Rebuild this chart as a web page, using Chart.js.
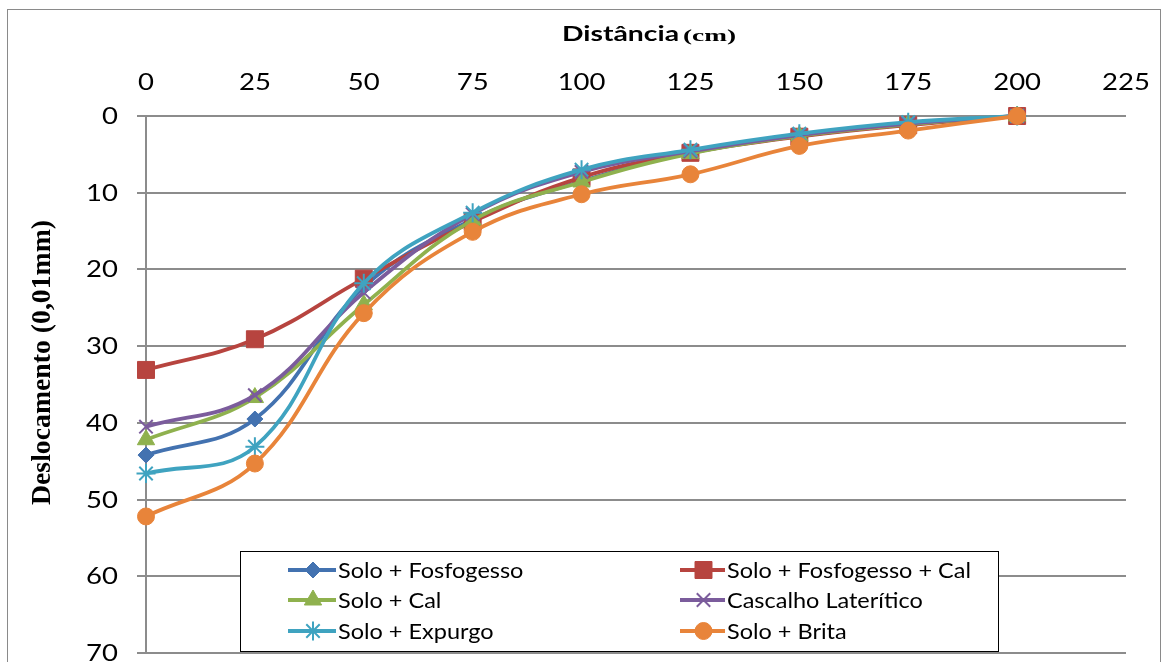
<!DOCTYPE html>
<html lang="pt">
<head>
<meta charset="UTF-8">
<title>Deslocamento x Distância</title>
<script src="https://cdn.jsdelivr.net/npm/chart.js"></script>
<style>
    html, body { margin: 0; padding: 0; background: #fff; overflow: hidden; }
    #wrap { position: relative; width: 1163px; height: 662px; }
    #frame { position: absolute; left: 7px; top: 9px; width: 1152px; height: 700px; border: 1px solid #8a8a8a; }
    canvas { position: absolute; left: 0; top: 0; }
</style>
</head>
<body>
<div id="wrap">
    <div id="frame"></div>
    <canvas id="chart" width="1163" height="662"></canvas>
</div>
<script>
// distância (cm) e deslocamentos (0,01mm)
const distancias = [0, 25, 50, 75, 100, 125, 150, 175, 200];
const soloFosfogesso    = [44.2, 39.5, 22.3, 13.5, 8.5, 4.8, 2.6, 1.1, 0];
const soloFosfogessoCal = [33.1, 29.1, 21.2, 13.8, 8.0, 4.8, 2.7, 1.2, 0];
const soloCal           = [42.2, 36.7, 24.6, 13.6, 8.6, 4.9, 2.6, 1.1, 0];
const cascalho          = [40.5, 36.4, 23.0, 12.8, 7.3, 4.6, 2.5, 1.0, 0];
const soloExpurgo       = [46.6, 43.1, 21.8, 12.6, 7.0, 4.4, 2.3, 0.8, 0];
const soloBrita         = [52.2, 45.3, 25.7, 15.1, 10.2, 7.6, 3.9, 1.9, 0];

const nomes = ['Solo + Fosfogesso', 'Solo + Fosfogesso + Cal', 'Solo + Cal',
               'Cascalho Laterítico', 'Solo + Expurgo', 'Solo + Brita'];
const series = [soloFosfogesso, soloFosfogessoCal, soloCal, cascalho, soloExpurgo, soloBrita];
const cores = ['#4372b0', '#b7443f', '#8fb14e', '#7b5c9c', '#3fa3c0', '#e8843a'];
const marcadores = ['rectRot', 'rect', 'triangle', 'crossRot', 'star', 'circle'];
const raios = [8, 12, 10, 9.5, 9.5, 8.5];

const datasets = series.map((vals, i) => ({
    label: nomes[i],
    data: distancias.map((d, j) => ({ x: d, y: vals[j] })),
    borderColor: cores[i],
    backgroundColor: cores[i],
    pointBackgroundColor: cores[i],
    pointBorderColor: cores[i],
    pointStyle: marcadores[i],
    pointRadius: raios[i],
    pointBorderWidth: (marcadores[i] === 'crossRot' || marcadores[i] === 'star') ? 2 : 1,
    borderWidth: 3.8,
    tension: 0.4,
    clip: false,
    order: series.length - i
}));

const gridGray = '#8c8c8c';

// texto com largura ajustada (escala horizontal)
function texto(ctx, str, x, y, font, largura, align) {
    ctx.save();
    ctx.font = font;
    const w = ctx.measureText(str).width;
    const sx = largura ? largura / w : 1;
    ctx.translate(x, y);
    ctx.scale(sx, 1);
    ctx.textAlign = align || 'left';
    ctx.fillText(str, 0, 0);
    ctx.restore();
    return w * sx;
}

// rótulos dos eixos, títulos e legenda
const extras = {
    id: 'extras',
    afterDraw(chart) {
        const ctx = chart.ctx;
        ctx.save();
        ctx.fillStyle = '#000';
        ctx.textBaseline = 'alphabetic';

        // rótulos do eixo x
        const xs = chart.scales.x, ys = chart.scales.y;
        const fTick = '23.5px Lato';
        xs.ticks.forEach(t => {
            const px = xs.getPixelForValue(t.value);
            ctx.font = fTick;
            const w = ctx.measureText(String(t.value)).width * 1.17;
            texto(ctx, String(t.value), px - w / 2, 90, fTick, w);
        });
        // rótulos do eixo y
        ys.ticks.forEach(t => {
            const py = ys.getPixelForValue(t.value);
            ctx.font = fTick;
            const w = ctx.measureText(String(t.value)).width * 1.17;
            texto(ctx, String(t.value), 118 - w, py + 8, fTick, w);
        });

        // título do eixo x
        texto(ctx, 'Distância', 562, 41, 'bold 21px Lato', 117);
        texto(ctx, '(cm)', 683, 41, 'bold 17px "Liberation Serif"', 53);

        // título do eixo y
        ctx.save();
        ctx.translate(50, 505);
        ctx.rotate(-Math.PI / 2);
        texto(ctx, 'Deslocamento (0,01mm)', 0, 0, 'bold 27px "Liberation Serif"', 285);
        ctx.restore();

        // legenda
        const lx = 240, ly = 551, lw = 758, lh = 100;
        ctx.fillStyle = '#fff';
        ctx.fillRect(lx, ly, lw, lh);
        ctx.strokeStyle = '#000';
        ctx.lineWidth = 1;
        ctx.strokeRect(lx + 0.5, ly + 0.5, lw, lh);
        const fLeg = '21px Lato';
        ctx.font = fLeg;
        const escLeg = 244 / ctx.measureText(nomes[1]).width;
        const linhaX = [288, 680];
        const textoX = [338, 727];
        const rowY = [570, 600, 631];
        chart.data.datasets.forEach((ds, i) => {
            const c = i % 2, cy = rowY[Math.floor(i / 2)];
            const cx = linhaX[c];
            ctx.strokeStyle = ds.borderColor;
            ctx.lineWidth = 3.8;
            ctx.beginPath();
            ctx.moveTo(cx, cy);
            ctx.lineTo(textoX[c] - 2, cy);
            ctx.stroke();
            ctx.fillStyle = ds.pointBackgroundColor;
            ctx.strokeStyle = ds.pointBorderColor;
            ctx.lineWidth = ds.pointBorderWidth;
            Chart.helpers.drawPoint(ctx, {
                pointStyle: ds.pointStyle,
                radius: ds.pointRadius,
                borderWidth: ds.pointBorderWidth,
                rotation: 0
            }, (cx + textoX[c]) / 2, cy);
            ctx.fillStyle = '#000';
            ctx.font = fLeg;
            const w = ctx.measureText(ds.label).width * escLeg;
            texto(ctx, ds.label, textoX[c], cy + 8, fLeg, w);
        });
        ctx.restore();
    }
};

new Chart(document.getElementById('chart'), {
    type: 'line',
    data: { datasets },
    options: {
        responsive: false,
        animation: false,
        layout: { autoPadding: false, padding: { left: 0, top: 0, right: 37, bottom: 9 } },
        plugins: { legend: { display: false }, tooltip: { enabled: false } },
        scales: {
            x: {
                type: 'linear',
                position: 'top',
                min: 0,
                max: 225,
                ticks: { stepSize: 25, display: false },
                grid: { display: false, drawTicks: false },
                border: { display: false },
                afterFit(scale) {
                    scale.height = 116;
                    scale.paddingLeft = 0;
                    scale.paddingRight = 0;
                }
            },
            y: {
                reverse: true,
                min: 0,
                max: 70,
                ticks: { stepSize: 10, display: false },
                grid: { color: gridGray, lineWidth: 2, tickLength: 9, drawTicks: true },
                border: { display: true, color: gridGray, width: 2 },
                afterFit(scale) {
                    scale.width = 146;
                    scale.paddingTop = 0;
                    scale.paddingBottom = 0;
                }
            }
        }
    },
    plugins: [extras]
});
</script>
</body>
</html>
